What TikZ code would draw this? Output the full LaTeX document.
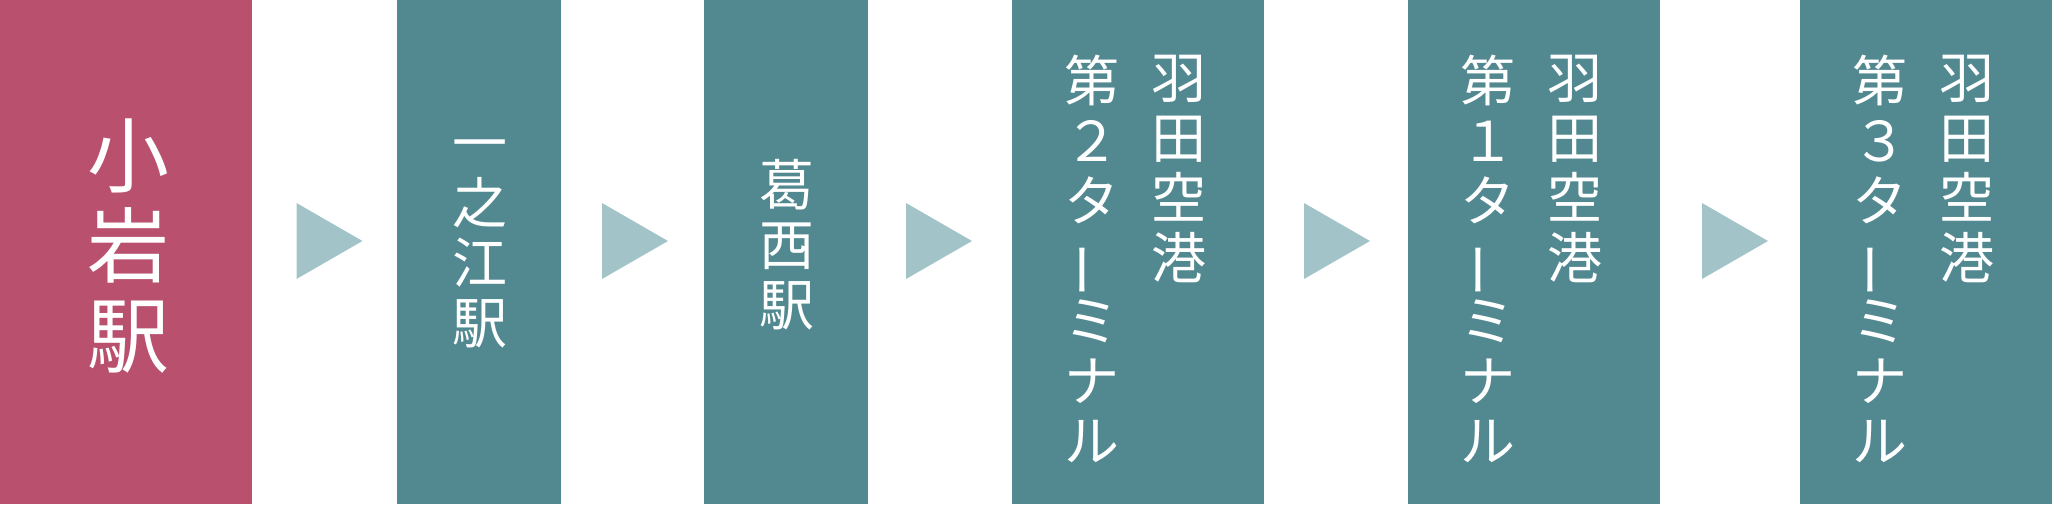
\documentclass[tikz,border=0pt]{standalone}
\usepackage{fontspec}
\usepackage{graphicx}
\newfontfamily\jpfont{Noto Sans CJK JP}
\usetikzlibrary{shapes.geometric}
\definecolor{stnpink}{RGB}{184,80,110}
\definecolor{stnteal}{RGB}{82,137,145}
\definecolor{stnarrow}{RGB}{162,196,200}
\newcommand{\bou}{\rotatebox[origin=c]{90}{ー}}
\tikzstyle{home_stn} = [rectangle, fill=stnpink, minimum width=126pt, minimum height=252pt, inner sep=0pt, outer sep=0pt]
\tikzstyle{stn_wide} = [rectangle, fill=stnteal, minimum width=126pt, minimum height=252pt, inner sep=0pt, outer sep=0pt]
\tikzstyle{stn_narrow} = [rectangle, fill=stnteal, minimum width=82pt, minimum height=252pt, inner sep=0pt, outer sep=0pt]
\tikzstyle{tri} = [isosceles triangle, isosceles triangle stretches, fill=stnarrow, minimum width=38pt, minimum height=33pt, inner sep=0pt, outer sep=0pt, anchor=apex]
\tikzstyle{tate_big} = [text=white, align=center, inner sep=0pt, font=\jpfont\fontsize{41}{45}\selectfont]
\tikzstyle{tate} = [text=white, align=center, inner sep=0pt, font=\jpfont\fontsize{27.5}{30}\selectfont]

\begin{document}
\begin{tikzpicture}
\useasboundingbox (0,0) rectangle (1026pt,252.5pt);

\node [home_stn] (b1) at (63pt,126.5pt) {};
\node [stn_narrow, right of = b1, node distance = 176.5pt] (b2) {};
\node [stn_narrow, right of = b2, node distance = 153.25pt] (b3) {};
\node [stn_wide, right of = b3, node distance = 176.25pt] (b4) {};
\node [stn_wide, right of = b4, node distance = 197.75pt] (b5) {};
\node [stn_wide, right of = b5, node distance = 196.25pt] (b6) {};

\node [tri] (t1) at ([xshift=55.25pt, yshift=5.5pt]b1.east) {};
\node [tri] (t2) at ([xshift=53.5pt, yshift=5.5pt]b2.east) {};
\node [tri] (t3) at ([xshift=52.25pt, yshift=5.5pt]b3.east) {};
\node [tri] (t4) at ([xshift=53pt, yshift=5.5pt]b4.east) {};
\node [tri] (t5) at ([xshift=54.25pt, yshift=5.5pt]b5.east) {};

\node [tate_big] (l1) at ([xshift=1pt, yshift=3pt]b1.center) {小\\岩\\駅};
\node [tate] (l2) at ([xshift=0.5pt, yshift=4pt]b2.center) {一\\之\\江\\駅};
\node [tate] (l3) at ([xshift=0.5pt, yshift=3.5pt]b3.center) {葛\\西\\駅};

\node [tate, anchor=north] (l4r) at ([xshift=20.5pt, yshift=-27.5pt]b4.north) {羽\\田\\空\\港};
\node [tate, anchor=north] (l4l) at ([xshift=-23pt, yshift=-27.5pt]b4.north) {第\\２\\タ\\\bou\\ミ\\ナ\\ル};

\node [tate, anchor=north] (l5r) at ([xshift=20.5pt, yshift=-27.5pt]b5.north) {羽\\田\\空\\港};
\node [tate, anchor=north] (l5l) at ([xshift=-23pt, yshift=-27.5pt]b5.north) {第\\１\\タ\\\bou\\ミ\\ナ\\ル};

\node [tate, anchor=north] (l6r) at ([xshift=20.5pt, yshift=-27.5pt]b6.north) {羽\\田\\空\\港};
\node [tate, anchor=north] (l6l) at ([xshift=-23pt, yshift=-27.5pt]b6.north) {第\\３\\タ\\\bou\\ミ\\ナ\\ル};

\end{tikzpicture}
\end{document}
